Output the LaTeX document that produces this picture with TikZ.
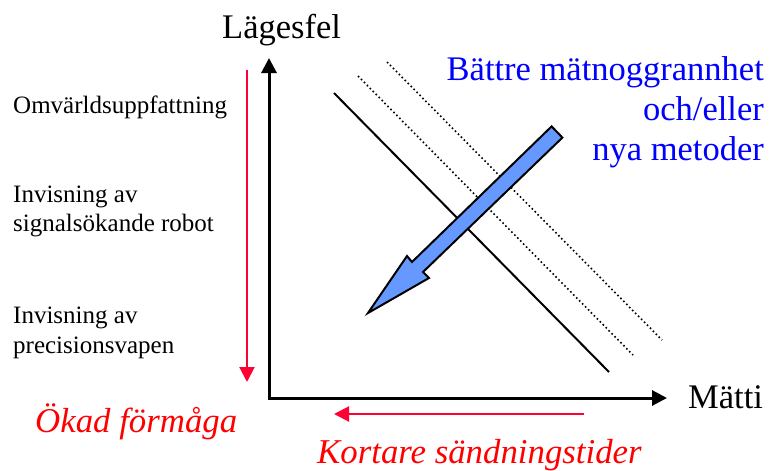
\documentclass[tikz,border=0pt]{standalone}
\usepackage{fontspec}
\setmainfont{Liberation Serif}
\usetikzlibrary{arrows.meta}
\definecolor{arrowblue}{HTML}{6699FF}
\definecolor{lbl}{HTML}{FF0000}
\definecolor{arrred}{HTML}{FF0033}
\tikzset{
  big/.style={inner sep=0pt, font=\fontsize{34.5}{40}\selectfont},
  bigit/.style={inner sep=0pt, font=\fontsize{34.8}{40}\selectfont\itshape, text=lbl, anchor=base west},
  small/.style={inner sep=0pt, font=\fontsize{25}{29}\selectfont, anchor=base west},
  axisline/.style={line width=3pt, line join=miter, {Triangle[length=15pt,width=15pt]}-{Triangle[length=15pt,width=15pt]}},
  redarrow/.style={line width=2pt, draw=arrred, -{Triangle[length=15pt,width=15pt]}},
  limitline/.style={line width=2pt},
  dotline/.style={line width=1.6pt, dash pattern=on 1.6pt off 2.6pt},
}
\begin{document}
\begin{tikzpicture}[x=1pt,y=-1pt]
\useasboundingbox (0,0) rectangle (771,471);
% axes
\coordinate (Ytop) at (269,58);
\coordinate (O) at (269,398);
\coordinate (Xend) at (667,398);
\draw[axisline] (Ytop) -- (O) -- (Xend);
\node[big, anchor=base west] (yl) at (222,38) {Lägesfel};
\node[big, anchor=base west] (xl) at (688,408) {Mätti};
% diagonal lines
\coordinate (s1) at (334,93);  \coordinate (s2) at (609,372);
\coordinate (d1) at (358,76);  \coordinate (d2) at (633,355);
\coordinate (e1) at (387,62);  \coordinate (e2) at (662,340);
\draw[limitline] (s1) -- (s2);
\draw[dotline] (d1) -- (d2);
\draw[dotline] (e1) -- (e2);
% blue block arrow
\draw[line width=2pt, line join=miter, fill=arrowblue]
  (551.6,126.4) -- (562.4,137.6) -- (423,272) -- (429,278) -- (368,313)
  -- (407,256) -- (412,262) -- cycle;
% blue text
\node[big, anchor=base east, text=blue] (b1) at (764,80) {Bättre mätnoggrannhet};
\node[big, anchor=base east, text=blue] (b2) at (764,120) {och/eller};
\node[big, anchor=base east, text=blue] (b3) at (764,160) {nya metoder};
% left labels
\node[small] (l1) at (13,113) {Omvärldsuppfattning};
\node[small] (l2) at (13,202) {Invisning av};
\node[small] (l3) at (13,231) {signalsökande robot};
\node[small] (l4) at (13,323) {Invisning av};
\node[small] (l5) at (13,353) {precisionsvapen};
% red arrows
\coordinate (r1) at (247,70); \coordinate (r2) at (247,382);
\draw[redarrow] (r1) -- (r2);
\coordinate (h1) at (584,414); \coordinate (h2) at (334,414);
\draw[redarrow] (h1) -- (h2);
\node[bigit] (ok) at (35,432) {Ökad förmåga};
\node[bigit] (ks) at (317,463) {Kortare sändningstider};
\end{tikzpicture}
\end{document}
